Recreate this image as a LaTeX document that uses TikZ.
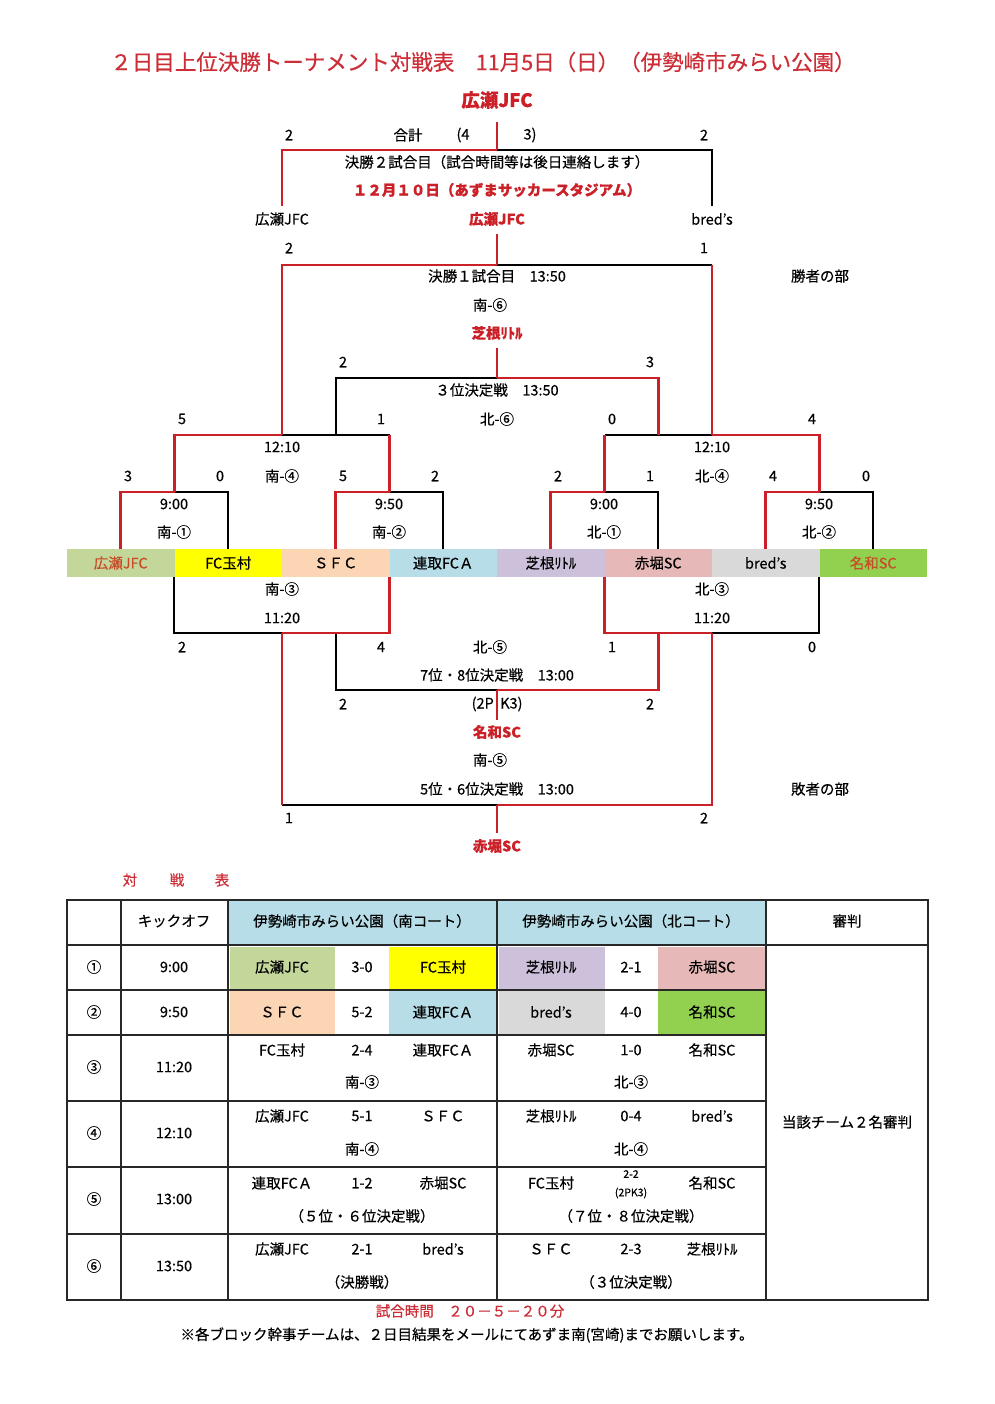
\documentclass[tikz,border=0pt]{standalone}
\usepackage{fontspec}
\setmainfont{Noto Sans CJK JP}[FakeBold=0.45]
\definecolor{rd}{RGB}{204,32,40}
\definecolor{tred}{RGB}{205,45,55}
\definecolor{orred}{RGB}{200,75,40}
\definecolor{cHirose}{RGB}{196,215,155}
\definecolor{cTamamura}{RGB}{255,255,0}
\definecolor{cSFC}{RGB}{252,213,180}
\definecolor{cRento}{RGB}{183,222,232}
\definecolor{cShibane}{RGB}{204,192,218}
\definecolor{cAkabori}{RGB}{230,184,183}
\definecolor{cBreds}{RGB}{217,217,217}
\definecolor{cNawa}{RGB}{146,208,80}
\definecolor{cHead}{RGB}{183,222,232}
\definecolor{grid}{RGB}{40,40,40}
\begin{document}
\begin{tikzpicture}[x=1pt,y=-1pt,
  txt/.style={inner sep=0pt,font=\fontsize{14.5}{16}\selectfont},
  small/.style={inner sep=0pt,font=\fontsize{10.5}{12}\selectfont},
  redtxt/.style={inner sep=0pt,font=\fontsize{14.5}{16}\selectfont,text=tred},
  rbold/.style={inner sep=0pt,font=\fontsize{14.5}{16}\selectfont\bfseries,text=rd},
  cell/.style={inner sep=0pt,minimum width=107.5pt,minimum height=28pt,font=\fontsize{14.5}{16}\selectfont},
  bk/.style={line width=1.7pt,draw=black},
  wn/.style={line width=2.8pt,draw=rd},
  tline/.style={line width=1.6pt,draw=grid}
]
\useasboundingbox (0,0) rectangle (994,1404);
\fill[white] (0,0) rectangle (994,1404);

% ---------- title ----------
\node[inner sep=0pt,font=\fontsize{21.5}{23}\selectfont,text=tred] (title) at (483,62) {２日目上位決勝トーナメント対戦表　11月5日（日）（伊勢崎市みらい公園）};
\node[inner sep=0pt,font=\fontsize{18.5}{20}\selectfont\bfseries,text=rd] (champ) at (497,100) {広瀬JFC};

% ---------- team bar ----------
\node[cell,fill=cHirose,text=orred] (t1) at (120.75,563) {広瀬JFC};
\node[cell,fill=cTamamura] (t2) at (228.25,563) {FC玉村};
\node[cell,fill=cSFC] (t3) at (335.75,563) {ＳＦＣ};
\node[cell,fill=cRento] (t4) at (443.25,563) {連取FCＡ};
\node[cell,fill=cShibane] (t5) at (550.75,563) {芝根ﾘﾄﾙ};
\node[cell,fill=cAkabori] (t6) at (658.25,563) {赤堀SC};
\node[cell,fill=cBreds] (t7) at (765.75,563) {bred's};
\node[cell,fill=cNawa,text=orred] (t8) at (873.25,563) {名和SC};

% ---------- key coordinates ----------
\coordinate (r1a) at (174.5,492);
\coordinate (r1b) at (389.5,492);
\coordinate (r1c) at (604.5,492);
\coordinate (r1d) at (819.5,492);
\coordinate (s1) at (282,435);
\coordinate (s2) at (712,435);
\coordinate (th) at (497,378);
\coordinate (thw) at (497,348);
\coordinate (f1) at (497,265);
\coordinate (f1w) at (497,234);
\coordinate (f2) at (497,150);
\coordinate (f2w) at (497,122);
\coordinate (f2l) at (282,206);
\coordinate (f2r) at (712,206);
\coordinate (q1) at (282,633);
\coordinate (q2) at (712,633);
\coordinate (sv) at (497,690);
\coordinate (svw) at (497,720);
\coordinate (fv) at (497,805);
\coordinate (fvw) at (497,833);

% ---------- black (losing) lines ----------
\draw[bk] (r1a) -- (t2.north |- r1a) -- (t2.north);
\draw[bk] (r1b) -- (t4.north |- r1b) -- (t4.north);
\draw[bk] (r1c) -- (t6.north |- r1c) -- (t6.north);
\draw[bk] (r1d) -- (t8.north |- r1d) -- (t8.north);
\draw[bk] (s1) -- (r1b |- s1);
\draw[bk] (r1c |- s2) -- (s2);
\draw[bk] (t3.north |- s1) -- (t3.north |- th) -- (th);
\draw[bk] (f1) -- (f2r |- f1);
\draw[bk] (f2) -- (f2r |- f2) -- (f2r);
\draw[bk] (t2.south west) -- (t2.south west |- q1) -- (q1);
\draw[bk] (q2) -- (t8.south west |- q2) -- (t8.south west);
\draw[bk] (t3.south |- q1) -- (t3.south |- sv) -- (sv);
\draw[bk] (q1 |- fv) -- (fv);

% ---------- red (winning) lines ----------
\draw[wn] (t1.north) -- (t1.north |- r1a) -- (r1a);
\draw[wn] (t3.north) -- (t3.north |- r1b) -- (r1b);
\draw[wn] (t5.north) -- (t5.north |- r1c) -- (r1c);
\draw[wn] (t7.north) -- (t7.north |- r1d) -- (r1d);
\draw[wn] (r1a) -- (r1a |- s1) -- (s1);
\draw[wn] (r1b |- s1) -- (r1b);
\draw[wn] (r1c) -- (r1c |- s2);
\draw[wn] (s2) -- (r1d |- s2) -- (r1d);
\draw[wn] (th) -- (t6.north |- th) -- (t6.north |- s2);
\draw[wn] (th) -- (thw);
\draw[wn] (s1) -- (s1 |- f1) -- (f1);
\draw[wn] (f2r |- f1) -- (s2);
\draw[wn] (f1) -- (f1w);
\draw[wn] (f2l) -- (f2l |- f2) -- (f2);
\draw[wn] (f2) -- (f2w);
\draw[wn] (q1) -- (t4.south west |- q1) -- (t4.south west);
\draw[wn] (t6.south west) -- (t6.south west |- q2) -- (q2);
\draw[wn] (sv) -- (t6.south |- sv) -- (t6.south |- q2);
\draw[wn] (sv) -- (svw);
\draw[wn] (q1) -- (q1 |- fv);
\draw[wn] (fv) -- (q2 |- fv) -- (q2);
\draw[wn] (fv) -- (fvw);

% ---------- bracket texts ----------
\node[txt] (a1) at (289,135) {2};
\node[txt] (a2) at (408,135) {合計};
\node[txt] (a3) at (463,135) {(4};
\node[txt] (a4) at (530,135) {3)};
\node[txt] (a5) at (704,135) {2};
\node[txt] (b1) at (497,162) {決勝２試合目（試合時間等は後日連絡します）};
\node[rbold] (b2) at (497,190) {１２月１０日（あずまサッカースタジアム）};
\node[txt] (c1) at (282,219) {広瀬JFC};
\node[rbold] (c2) at (497,219) {広瀬JFC};
\node[txt] (c3) at (712,219) {bred's};
\node[txt] (d1) at (289,248) {2};
\node[txt] (d2) at (704,248) {1};
\node[txt] (e1) at (497,276) {決勝１試合目　13:50};
\node[txt] (e2) at (820,276) {勝者の部};
\node[txt] (e3) at (490,305) {南-⑥};
\node[rbold] (e4) at (497,333) {芝根ﾘﾄﾙ};
\node[txt] (g1) at (343,362) {2};
\node[txt] (g2) at (650,362) {3};
\node[txt] (g3) at (497,390) {３位決定戦　13:50};
\node[txt] (h1) at (182,419) {5};
\node[txt] (h2) at (381,419) {1};
\node[txt] (h3) at (497,419) {北-⑥};
\node[txt] (h4) at (612,419) {0};
\node[txt] (h5) at (812,419) {4};
\node[txt] (i1) at (282,447) {12:10};
\node[txt] (i2) at (712,447) {12:10};
\node[txt] (j1) at (128,476) {3};
\node[txt] (j2) at (220,476) {0};
\node[txt] (j3) at (282,476) {南-④};
\node[txt] (j4) at (343,476) {5};
\node[txt] (j5) at (435,476) {2};
\node[txt] (j6) at (558,476) {2};
\node[txt] (j7) at (650,476) {1};
\node[txt] (j8) at (712,476) {北-④};
\node[txt] (j9) at (773,476) {4};
\node[txt] (j10) at (866,476) {0};
\node[txt] (k1) at (174,504) {9:00};
\node[txt] (k2) at (389,504) {9:50};
\node[txt] (k3) at (604,504) {9:00};
\node[txt] (k4) at (819,504) {9:50};
\node[txt] (l1) at (174,532) {南-①};
\node[txt] (l2) at (389,532) {南-②};
\node[txt] (l3) at (604,532) {北-①};
\node[txt] (l4) at (819,532) {北-②};
\node[txt] (m1) at (282,589) {南-③};
\node[txt] (m2) at (712,589) {北-③};
\node[txt] (m3) at (282,618) {11:20};
\node[txt] (m4) at (712,618) {11:20};
\node[txt] (n1) at (182,647) {2};
\node[txt] (n2) at (381,647) {4};
\node[txt] (n3) at (490,647) {北-⑤};
\node[txt] (n4) at (612,647) {1};
\node[txt] (n5) at (812,647) {0};
\node[txt] (o1) at (497,675) {7位・8位決定戦　13:00};
\node[txt] (p1) at (343,704) {2};
\node[txt,anchor=east] (p2) at (494,704) {(2P};
\node[txt,anchor=west] (p3) at (500,704) {K3)};
\node[txt] (p4) at (650,704) {2};
\node[rbold] (p5) at (497,732) {名和SC};
\node[txt] (u1) at (490,760) {南-⑤};
\node[txt] (u2) at (497,789) {5位・6位決定戦　13:00};
\node[txt] (u3) at (820,789) {敗者の部};
\node[txt] (v1) at (289,818) {1};
\node[txt] (v2) at (704,818) {2};
\node[rbold] (v3) at (497,846) {赤堀SC};

\node[redtxt] (w1) at (130,880) {対};
\node[redtxt] (w2) at (177,880) {戦};
\node[redtxt] (w3) at (222,880) {表};

% ---------- table fills ----------
\fill[cHead] (228,900) rectangle (497,945);
\fill[cHead] (497,900) rectangle (766,945);
\fill[cHirose] (229.5,946.5) rectangle (335,989);
\fill[cTamamura] (389,946.5) rectangle (496,989);
\fill[cShibane] (498.5,946.5) rectangle (605,989);
\fill[cAkabori] (658,946.5) rectangle (765,989);
\fill[cSFC] (229.5,991) rectangle (335,1034);
\fill[cRento] (389,991) rectangle (496,1034);
\fill[cBreds] (498.5,991) rectangle (605,1034);
\fill[cNawa] (658,991) rectangle (765,1034);

% ---------- table grid ----------
\draw[tline] (67,900) rectangle (928,1300);
\draw[tline] (121,900) -- (121,1300);
\draw[tline] (228,900) -- (228,1300);
\draw[tline] (497,900) -- (497,1300);
\draw[tline] (766,900) -- (766,1300);
\draw[tline] (67,945) -- (928,945);
\foreach \yy in {990,1035,1101,1167,1234} {\draw[tline] (67,\yy) -- (766,\yy);}

% ---------- table texts ----------
\node[txt] (h01) at (174,921) {キックオフ};
\node[txt] (h02) at (362,921) {伊勢崎市みらい公園（南コート）};
\node[txt] (h03) at (631,921) {伊勢崎市みらい公園（北コート）};
\node[txt] (h04) at (847,921) {審判};

\node[txt] (r1n) at (94,967) {①};
\node[txt] (r1t) at (174,967) {9:00};
\node[txt] (r1s1) at (282,967) {広瀬JFC};
\node[txt] (r1s2) at (362,967) {3-0};
\node[txt] (r1s3) at (443,967) {FC玉村};
\node[txt] (r1n1) at (551,967) {芝根ﾘﾄﾙ};
\node[txt] (r1n2) at (631,967) {2-1};
\node[txt] (r1n3) at (712,967) {赤堀SC};

\node[txt] (r2n) at (94,1012) {②};
\node[txt] (r2t) at (174,1012) {9:50};
\node[txt] (r2s1) at (282,1012) {ＳＦＣ};
\node[txt] (r2s2) at (362,1012) {5-2};
\node[txt] (r2s3) at (443,1012) {連取FCＡ};
\node[txt] (r2n1) at (551,1012) {bred's};
\node[txt] (r2n2) at (631,1012) {4-0};
\node[txt] (r2n3) at (712,1012) {名和SC};

\node[txt] (r3n) at (94,1067) {③};
\node[txt] (r3t) at (174,1067) {11:20};
\node[txt] (r3s1) at (282,1050) {FC玉村};
\node[txt] (r3s2) at (362,1050) {2-4};
\node[txt] (r3s3) at (443,1050) {連取FCＡ};
\node[txt] (r3s4) at (362,1082) {南-③};
\node[txt] (r3n1) at (551,1050) {赤堀SC};
\node[txt] (r3n2) at (631,1050) {1-0};
\node[txt] (r3n3) at (712,1050) {名和SC};
\node[txt] (r3n4) at (631,1082) {北-③};

\node[txt] (r4n) at (94,1133) {④};
\node[txt] (r4t) at (174,1133) {12:10};
\node[txt] (r4s1) at (282,1116) {広瀬JFC};
\node[txt] (r4s2) at (362,1116) {5-1};
\node[txt] (r4s3) at (443,1116) {ＳＦＣ};
\node[txt] (r4s4) at (362,1149) {南-④};
\node[txt] (r4n1) at (551,1116) {芝根ﾘﾄﾙ};
\node[txt] (r4n2) at (631,1116) {0-4};
\node[txt] (r4n3) at (712,1116) {bred's};
\node[txt] (r4n4) at (631,1149) {北-④};

\node[txt] (r5n) at (94,1199) {⑤};
\node[txt] (r5t) at (174,1199) {13:00};
\node[txt] (r5s1) at (282,1183) {連取FCＡ};
\node[txt] (r5s2) at (362,1183) {1-2};
\node[txt] (r5s3) at (443,1183) {赤堀SC};
\node[txt] (r5s4) at (362,1216) {（５位・６位決定戦）};
\node[txt] (r5n1) at (551,1183) {FC玉村};
\node[small] (r5n2) at (631,1174) {2-2};
\node[small] (r5n2b) at (631,1193) {(2PK3)};
\node[txt] (r5n3) at (712,1183) {名和SC};
\node[txt] (r5n4) at (631,1216) {（７位・８位決定戦）};

\node[txt] (r6n) at (94,1266) {⑥};
\node[txt] (r6t) at (174,1266) {13:50};
\node[txt] (r6s1) at (282,1249) {広瀬JFC};
\node[txt] (r6s2) at (362,1249) {2-1};
\node[txt] (r6s3) at (443,1249) {bred's};
\node[txt] (r6s4) at (362,1282) {（決勝戦）};
\node[txt] (r6n1) at (551,1249) {ＳＦＣ};
\node[txt] (r6n2) at (631,1249) {2-3};
\node[txt] (r6n3) at (712,1249) {芝根ﾘﾄﾙ};
\node[txt] (r6n4) at (631,1282) {（３位決定戦）};

\node[txt] (judge) at (847,1122) {当該チーム２名審判};

% ---------- footer ----------
\node[redtxt] (ft1) at (470,1311) {試合時間　２０－５－２０分};
\node[txt] (ft2) at (467,1335) {※各ブロック幹事チームは、２日目結果をメールにてあずま南(宮崎)までお願いします。};
\end{tikzpicture}
\end{document}
